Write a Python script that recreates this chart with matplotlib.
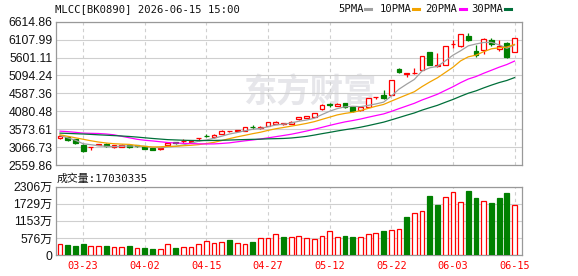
import matplotlib
matplotlib.use('Agg')
import matplotlib.pyplot as plt
from matplotlib.lines import Line2D

# ---------------- data ----------------
title = 'MLCC[BK0890] 2026-06-15 15:00'

open_ = [3322, 3344, 3283, 3115, 3056, 3129, 3157, 3064, 3078, 3120,
         3112, 3084, 3042, 3003, 3115, 3204, 3230, 3200, 3314, 3392,
         3339, 3434, 3518, 3526, 3535, 3636, 3596, 3675, 3728, 3734,
         3734, 3854, 3890, 3932, 4137, 4276, 4240, 4302, 4204, 4120,
         4199, 4487, 4534, 4548, 5282, 5136, 5159, 5243, 5747, 5360,
         5402, 5974, 5920, 6215, 5775, 5803, 6083, 5850, 6010, 5752]
high = [3415, 3372, 3302, 3143, 3070, 3168, 3176, 3126, 3148, 3134,
        3126, 3098, 3056, 3050, 3196, 3224, 3288, 3255, 3325, 3448,
        3428, 3554, 3535, 3543, 3638, 3680, 3658, 3778, 3798, 3745,
        3806, 3918, 3955, 4036, 4282, 4310, 4302, 4324, 4226, 4218,
        4450, 4498, 4674, 4968, 5318, 5170, 5310, 5654, 5766, 5730,
        5926, 6083, 6279, 6290, 5962, 6144, 6167, 6102, 6038, 6158]
low = [3289, 3246, 3162, 2930, 2975, 3120, 3078, 3050, 3056, 3050,
       3073, 3008, 2980, 2995, 3106, 3157, 3190, 3182, 3246, 3344,
       3330, 3428, 3484, 3498, 3526, 3582, 3582, 3666, 3722, 3694,
       3722, 3846, 3882, 3924, 4128, 4190, 4226, 4176, 4058, 4100,
       4190, 4422, 4422, 4540, 5164, 5047, 5122, 5234, 5388, 5346,
       5394, 5870, 5912, 6055, 5607, 5702, 5915, 5775, 5584, 5747]
close = [3378, 3274, 3190, 2958, 3070, 3157, 3092, 3115, 3126, 3064,
         3087, 3022, 2995, 3036, 3182, 3171, 3241, 3250, 3325, 3381,
         3414, 3535, 3529, 3538, 3630, 3624, 3644, 3770, 3784, 3745,
         3790, 3904, 3941, 4025, 4268, 4270, 4288, 4193, 4095, 4207,
         4442, 4498, 4445, 4954, 5187, 5150, 5173, 5635, 5402, 5397,
         5915, 5985, 6265, 6102, 5663, 6122, 5990, 5915, 5612, 6150]

# volume in units of 万 (10 000)
volume = [365, 338, 304, 371, 304, 304, 304, 270, 270, 304,
          236, 236, 203, 203, 361, 236, 270, 270, 361, 465,
          410, 429, 506, 395, 361, 439, 564, 564, 699, 600,
          597, 631, 563, 530, 631, 800, 597, 631, 597, 597,
          698, 732, 800, 834, 867, 1283, 1407, 1475, 1992, 1688,
          1947, 2117, 1779, 2161, 1924, 1812, 1756, 1924, 2093, 1703.0335]

ma5 = [3395, 3330, 3260, 3162, 3134, 3106, 3087, 3078, 3095, 3098,
       3095, 3084, 3062, 3048, 3067, 3090, 3129, 3176, 3232, 3269,
       3316, 3375, 3437, 3479, 3529, 3571, 3594, 3641, 3692, 3714,
       3748, 3798, 3832, 3882, 3986, 4081, 4156, 4207, 4221, 4210,
       4246, 4288, 4338, 4509, 4705, 4848, 4982, 5220, 5310, 5352,
       5503, 5666, 5792, 5932, 5985, 6027, 6030, 5960, 5862, 5957]
ma10 = [3414, 3372, 3330, 3288, 3246, 3210, 3182, 3162, 3151, 3143,
        3113, 3088, 3069, 3076, 3088, 3089, 3104, 3117, 3136, 3168,
        3201, 3252, 3306, 3356, 3400, 3446, 3486, 3539, 3585, 3621,
        3659, 3696, 3737, 3786, 3850, 3914, 3978, 4020, 4052, 4098,
        4163, 4222, 4273, 4366, 4457, 4546, 4634, 4779, 4909, 5028,
        5176, 5324, 5506, 5621, 5669, 5766, 5848, 5876, 5897, 5972]
ma20 = [3518, 3504, 3484, 3462, 3456, 3451, 3437, 3414, 3372, 3330,
        3288, 3260, 3241, 3218, 3196, 3182, 3174, 3165, 3160, 3155,
        3157, 3170, 3187, 3216, 3244, 3268, 3295, 3328, 3361, 3395,
        3430, 3474, 3521, 3571, 3625, 3680, 3732, 3780, 3818, 3860,
        3911, 3959, 4005, 4076, 4154, 4230, 4306, 4400, 4480, 4563,
        4669, 4773, 4890, 4993, 5063, 5156, 5241, 5327, 5403, 5500]
ma30 = [3462, 3454, 3445, 3437, 3426, 3414, 3403, 3392, 3381, 3367,
        3350, 3330, 3311, 3294, 3277, 3269, 3260, 3255, 3252, 3252,
        3255, 3260, 3266, 3274, 3280, 3286, 3291, 3300, 3305, 3311,
        3324, 3345, 3370, 3406, 3446, 3483, 3523, 3559, 3591, 3629,
        3674, 3723, 3772, 3836, 3902, 3969, 4033, 4113, 4182, 4249,
        4333, 4414, 4505, 4591, 4658, 4742, 4820, 4892, 4952, 5033]

tick_idx = [3, 11, 19, 27, 35, 43, 51, 59]
tick_labels = ['03-23', '04-02', '04-15', '04-27', '05-12', '05-22', '06-03', '06-15']
price_tick_labels = ['2559.86', '3066.73', '3573.61', '4080.48', '4587.36',
                     '5094.24', '5601.11', '6107.99', '6614.86']
vol_ticks = [0, 576.5, 1153, 1729.5, 2306]
vol_tick_labels = ['0', '576万', '1153万', '1729万', '2306万']
ma_names = ['5PMA', '10PMA', '20PMA', '30PMA']

# ---------------- style ----------------
W, H = 578, 276
RED = '#ff0000'
GREEN = '#008000'
MA_COLORS = ['#a0a0a0', '#f2a300', '#ff00ff', '#006f3a']
GRID = '#cfcfcf'
SPINE = '#999999'
MONO = ['DejaVu Sans Mono', 'Noto Sans CJK SC']
SANS = ['Liberation Sans', 'Noto Sans CJK SC']

fig = plt.figure(figsize=(W / 100, H / 100), dpi=100, facecolor='white')


def fx(px):
    return px / W


def fy(py):
    return 1 - py / H


ax = fig.add_axes([fx(56), fy(165), 466 / W, 143.3 / H])
axv = fig.add_axes([fx(56), fy(255), 466 / W, 68.3 / H])

n = len(close)
xs = list(range(n))
bw = 0.62

for a in (ax, axv):
    a.set_xlim(-0.52, n - 1 + 0.97)
    for s in a.spines.values():
        s.set_color(SPINE)
        s.set_linewidth(0.9)
    a.set_axisbelow(True)
    a.grid(axis='y', color=GRID, lw=0.8, ls='-')
    a.grid(axis='x', color=GRID, lw=0.8, ls=(0, (3, 3)))
    a.set_xticks(tick_idx)
    a.tick_params(length=0)

# watermark
ax.text(0.545, 0.50, '东方财富', transform=ax.transAxes, ha='center', va='center',
        fontsize=24, fontweight='bold', color='#e6e6ea', family=['Noto Sans CJK SC'],
        zorder=0.5)

# candles
for i in xs:
    o, h, l, c = open_[i], high[i], low[i], close[i]
    up = c >= o
    top, bot = max(o, c), min(o, c)
    body = max(top - bot, 1.0)
    if up:
        ax.vlines(i, top, h, color=RED, lw=0.9, zorder=3)
        ax.vlines(i, l, bot, color=RED, lw=0.9, zorder=3)
        ax.bar(i, body, bottom=bot, width=bw, facecolor='white', edgecolor=RED,
               lw=0.9, zorder=4)
    else:
        ax.vlines(i, l, h, color=GREEN, lw=0.9, zorder=3)
        ax.bar(i, body, bottom=bot, width=bw, facecolor=GREEN, edgecolor=GREEN,
               lw=0.9, zorder=4)

for vals, col in zip([ma5, ma10, ma20, ma30], MA_COLORS):
    ax.plot(xs, vals, color=col, lw=0.9, zorder=5)

ptick = [float(t) for t in price_tick_labels]
ax.set_ylim(ptick[0], ptick[-1])
ax.set_yticks(ptick)
ax.set_yticklabels(price_tick_labels, family=SANS, fontsize=8.7, color='#111111')
ax.tick_params(axis='y', pad=2.5)
ax.set_xticklabels([])

# volume
for i in xs:
    up = close[i] >= (close[i - 1] if i > 0 else open_[i])
    if up:
        axv.bar(i, volume[i], width=bw, facecolor='white', edgecolor=RED, lw=0.9, zorder=3)
    else:
        axv.bar(i, volume[i], width=bw, facecolor=GREEN, edgecolor=GREEN, lw=0.9, zorder=3)

axv.set_ylim(vol_ticks[0], vol_ticks[-1])
axv.set_yticks(vol_ticks)
axv.set_yticklabels(vol_tick_labels, family=SANS, fontsize=8.7, color='#111111')
axv.tick_params(axis='y', pad=2.5)
axv.set_xticklabels(tick_labels, family=MONO, fontsize=7.4, color=RED)
axv.tick_params(axis='x', pad=4.5)

# header texts
fig.text(fx(55), fy(9), title, family=MONO, fontsize=7.6, va='center', ha='left', color='#111111')
fig.text(fx(57), fy(179), '成交量:' + str(int(round(volume[-1] * 10000))), family=MONO,
         fontsize=7.8, va='center', ha='left', color='#111111')

# legend
leg_x = [338, 380, 425, 471]
dash_x = [365, 413, 460, 505]
for name, lx, dx, col in zip(ma_names, leg_x, dash_x, MA_COLORS):
    fig.text(fx(lx), fy(9), name, family=MONO, fontsize=7.6, va='center', ha='left',
             color='#111111')
    fig.add_artist(Line2D([fx(dx), fx(dx + 6)], [fy(9), fy(9)], color=col, lw=2.2,
                          transform=fig.transFigure))

fig.savefig('out.png', dpi=100, facecolor='white')
